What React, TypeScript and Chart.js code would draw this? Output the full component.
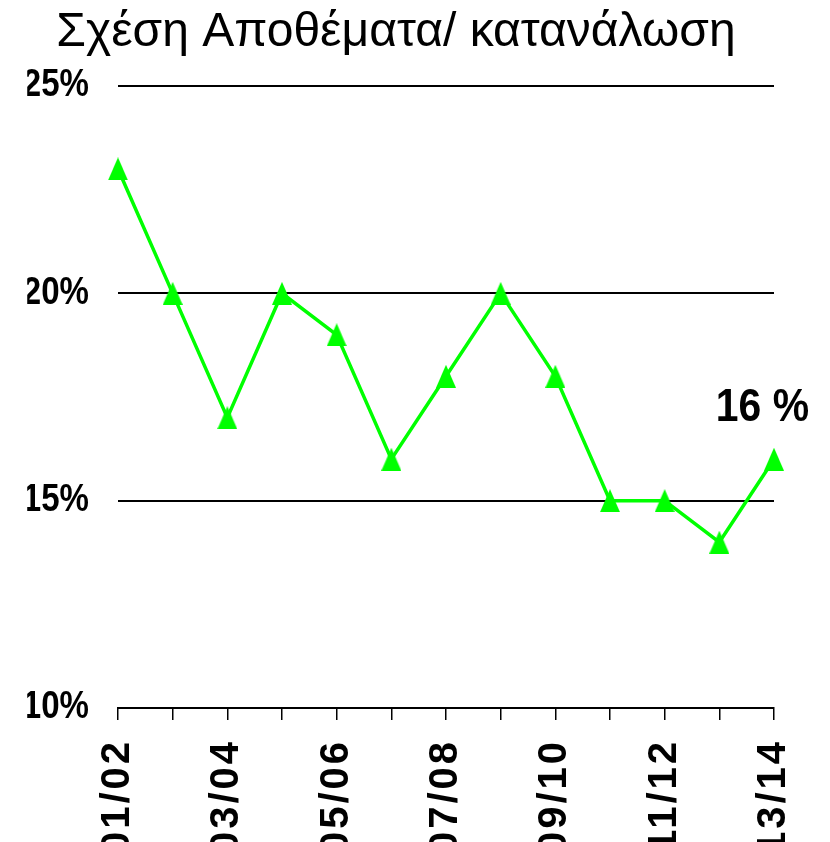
import React, { useEffect, useRef } from "react";
import { Chart, registerables } from "chart.js";

Chart.register(...registerables);

const titleText = "Σχέση Αποθέματα/ κατανάλωση";
const seasons = ["01/02", "02/03", "03/04", "04/05", "05/06", "06/07", "07/08", "08/09", "09/10", "10/11", "11/12", "12/13", "13/14"];
const ratioValues = [23, 20, 17, 20, 19, 16, 18, 20, 18, 15, 15, 14, 16];
const yTickValues = [10, 15, 20, 25];

const SANS = '"Liberation Sans", Arial, sans-serif';
const NARROW_SCALE = 0.87;

function makeTriangle(): HTMLCanvasElement {
  const c = document.createElement("canvas");
  c.width = 20;
  c.height = 23;
  const g = c.getContext("2d")!;
  g.fillStyle = "#00FF00";
  g.beginPath();
  g.moveTo(10, 0);
  g.lineTo(20, 23);
  g.lineTo(0, 23);
  g.closePath();
  g.fill();
  return c;
}

const labelStyling = {
  id: "labelStyling",
  afterLayout(chart: any) {
    const sx = chart.scales.x;
    if (sx && !sx.__patched) {
      const orig = sx.drawLabels.bind(sx);
      sx.drawLabels = (area: any) => {
        const ctx = chart.ctx;
        ctx.save();
        (ctx as any).letterSpacing = "3px";
        orig(area);
        ctx.restore();
      };
      sx.__patched = true;
    }
    const sy = chart.scales.y;
    if (sy && !sy.__patched) {
      const orig = sy.drawLabels.bind(sy);
      sy.drawLabels = (area: any) => {
        const ctx = chart.ctx;
        const anchor = sy.right - sy.options.ticks.padding;
        ctx.save();
        ctx.translate(anchor, 0);
        ctx.scale(NARROW_SCALE, 1);
        ctx.translate(-anchor, 0);
        orig(area);
        ctx.restore();
      };
      sy.__patched = true;
    }
  },
};

const lastValueLabel = {
  id: "lastValueLabel",
  afterDatasetsDraw(chart: any) {
    const meta = chart.getDatasetMeta(0);
    const pts = meta.data;
    const pt = pts[pts.length - 1];
    const v = ratioValues[ratioValues.length - 1];
    const ctx = chart.ctx;
    ctx.save();
    ctx.translate(pt.x + 35, pt.y - 38);
    ctx.scale(NARROW_SCALE, 1);
    ctx.font = `bold 47px ${SANS}`;
    ctx.fillStyle = "#000";
    ctx.textAlign = "right";
    ctx.textBaseline = "alphabetic";
    ctx.fillText(`${v} %`, 0, 0);
    ctx.restore();
  },
};

export default function App() {
  const ref = useRef<HTMLCanvasElement>(null);

  useEffect(() => {
    if (!ref.current) return;
    const tri = makeTriangle();
    const chart = new Chart(ref.current, {
      type: "line",
      data: {
        labels: seasons,
        datasets: [
          {
            data: ratioValues,
            borderColor: "#00FF00",
            backgroundColor: "#00FF00",
            borderWidth: 3.5,
            pointStyle: tri as any,
            pointRadius: 10,
            tension: 0,
            fill: false,
          },
        ],
      },
      options: {
        animation: false,
        responsive: false,
        layout: { padding: { left: 18, right: 56, top: 0, bottom: 0 } },
        plugins: {
          legend: { display: false },
          tooltip: { enabled: false },
          title: {
            display: true,
            text: titleText,
            color: "#000",
            font: { family: SANS, size: 48, weight: "normal" },
            padding: { top: 4, bottom: 24.4 },
          },
        },
        scales: {
          x: {
            offset: false,
            grid: {
              drawOnChartArea: false,
              drawTicks: true,
              tickLength: 12,
              color: "#000",
              lineWidth: 1.5,
            },
            border: { display: true, color: "#000", width: 2 },
            ticks: {
              autoSkip: false,
              minRotation: 90,
              maxRotation: 90,
              padding: 19,
              color: "#000",
              font: { family: SANS, size: 40, weight: "bold" },
              callback: (_v: any, i: number) => (i % 2 === 0 ? seasons[i] : ""),
            },
            afterFit: (s: any) => {
              s.height = 134;
              s.paddingLeft = 0;
              s.paddingRight = 0;
            },
          },
          y: {
            min: 10,
            max: 25,
            grid: { color: "#000", lineWidth: 2, drawTicks: false },
            border: { display: false },
            ticks: {
              padding: 29,
              color: "#000",
              font: { family: SANS, size: 38, weight: "bold" },
              callback: (v: any) => `${v}%`,
            },
            afterBuildTicks: (s: any) => {
              s.ticks = yTickValues.map((v) => ({ value: v }));
            },
            afterFit: (s: any) => {
              s.width = 100;
            },
          },
        },
      },
      plugins: [labelStyling, lastValueLabel],
    });
    return () => chart.destroy();
  }, []);

  return (
    <div style={{ position: "absolute", left: 0, top: 0, width: 830, height: 842, background: "#fff" }}>
      <canvas ref={ref} width={830} height={842} />
    </div>
  );
}
